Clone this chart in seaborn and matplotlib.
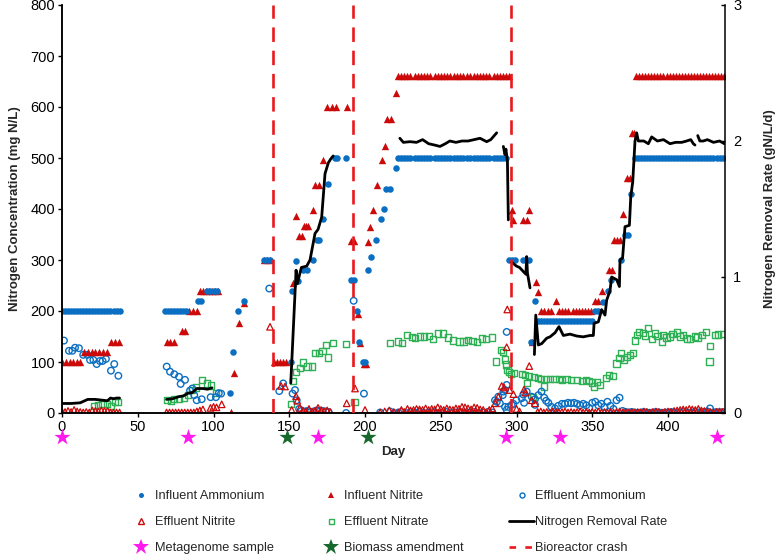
import matplotlib
matplotlib.use("Agg")
import matplotlib.pyplot as plt
import pandas as pd
import seaborn as sns
from matplotlib.lines import Line2D

sns.set_theme(style="ticks")
plt.rcParams['font.family'] = ['Liberation Sans', 'DejaVu Sans']

# ---------------- data (day, value) ----------------
influent_ammonium = [
    (0, 200), (2, 200), (4, 200), (6, 200), (8, 200), (10, 200), (12, 200), (14, 200), (16, 200), (18, 200),
    (20, 200), (22, 200), (24, 200), (26, 200), (28, 200), (30, 200), (32, 200), (34, 200), (36, 200), (38, 200),
    (68, 200), (70, 200), (72, 200), (74, 200), (76, 200), (78, 200), (80, 200), (82, 200), (90, 220), (92, 220),
    (96, 240), (98, 240), (100, 240), (102, 240), (111, 39), (113, 120), (116, 200), (120, 220),
    (133, 300), (135, 300), (137, 300),
    (151, 100), (152, 239), (154.3, 299), (156, 258), (159, 280), (161.5, 280), (165.5, 300), (168, 340),
    (169.5, 340), (172, 380), (175.5, 450), (180, 500), (181.5, 500), (187.5, 500),
    (190.5, 260), (192.5, 260), (194.5, 200), (196.3, 140), (198.5, 100), (200, 100), (202, 280), (203.7, 305),
    (207.3, 340), (210.6, 380), (212.5, 400), (214, 440), (216.5, 440), (220.3, 480),
    (222, 500), (224, 500), (226, 500), (228, 500), (230, 500), (233, 500), (235, 500), (237, 500), (239, 500),
    (241, 500), (243, 500), (246, 500), (248, 500), (250, 500), (252, 500), (254, 500), (256, 500), (259, 500),
    (261, 500), (263, 500), (265, 500), (267, 500), (269, 500), (272, 500), (274, 500), (276, 500), (278, 500),
    (280, 500), (282, 500), (285, 500), (287, 500), (289, 500), (291, 500), (293, 500),
    (295, 300), (297, 300), (299, 300), (304, 300), (306, 300), (308, 300), (309.5, 140), (312.2, 220),
    (314, 180), (316, 180), (318, 180), (320, 180), (322, 180), (324, 180), (326, 180), (328, 180), (330, 180),
    (332, 180), (334, 180), (336, 180), (338, 180), (340, 180), (342, 180), (344, 180), (346, 180), (348, 180),
    (350, 180), (352, 200), (354, 200), (357, 218), (360.6, 240), (362.2, 260), (368.8, 300), (371.6, 350),
    (373.5, 350), (375.6, 430),
    (378, 500), (380, 500), (382, 500), (384, 500), (386, 500), (388, 500), (390, 500), (392, 500), (394, 500),
    (396, 500), (398, 500), (400, 500), (402, 500), (404, 500), (406, 500), (408, 500), (410, 500), (412, 500),
    (414, 500), (416, 500), (418, 500), (420, 500), (422, 500), (424, 500), (426, 500), (428, 500), (430, 500),
    (432, 500), (434, 500), (436, 500),
]

influent_nitrite = [
    (0, 100), (2.5, 100), (5, 100), (7.5, 100), (10, 100), (12, 100),
    (14.5, 120), (17, 120), (19.5, 120), (22, 120), (24.5, 120), (27, 120), (29.5, 120),
    (32.5, 140), (35, 140), (37.5, 140),
    (69, 140), (71.5, 140), (74, 140), (79, 160), (81.5, 160), (84, 200), (86.5, 200), (89, 200),
    (91, 240), (93, 240), (95, 240), (97, 240), (99, 240), (101, 240), (103, 240),
    (111.6, 2), (113.5, 78), (117, 177), (120, 216), (133, 300), (135, 300), (137, 300),
    (140, 100), (142, 100), (144, 100), (146, 100), (148, 100),
    (152.6, 255), (154.5, 387), (156.4, 348), (158.2, 348), (159.5, 367), (161, 367), (162.6, 367),
    (165.9, 398), (167.2, 448), (169.6, 448), (172.5, 496), (175, 600), (178, 600), (181, 600), (188, 600),
    (190.5, 337), (192.5, 337), (195.2, 195), (196.7, 137), (199, 97), (200.7, 97), (202.2, 336),
    (203.3, 365), (205, 398), (208, 447), (211.2, 496), (213.2, 524), (214.5, 576), (217, 576), (220.3, 628),
    (222, 660), (224, 660), (226, 660), (228, 660), (230, 660), (233, 660), (235, 660), (237, 660), (239, 660),
    (241, 660), (243, 660), (246, 660), (248, 660), (250, 660), (252, 660), (254, 660), (256, 660), (259, 660),
    (261, 660), (263, 660), (265, 660), (267, 660), (269, 660), (272, 660), (274, 660), (276, 660), (278, 660),
    (280, 660), (282, 660), (285, 660), (287, 660), (289, 660), (291, 660), (293, 660), (295, 660),
    (296.8, 398), (298, 378), (304, 378), (306.7, 378), (308.4, 398), (310, 140), (312.6, 257), (314, 237),
    (316, 200), (318, 200), (321, 200), (323, 200), (326, 220), (328, 200), (330, 200), (332, 200), (334, 200),
    (337, 200), (339, 200), (341, 200), (343, 200), (345, 200), (347, 200), (349, 200),
    (352, 220), (354, 220), (356.2, 240), (361, 280), (362.8, 280), (364.5, 340), (366.2, 340), (368, 340),
    (370.3, 390), (372.7, 460), (375, 460), (376, 550), (377.6, 550),
    (379, 660), (381, 660), (383, 660), (385, 660), (387, 660), (389, 660), (391, 660), (393, 660), (395, 660),
    (397, 660), (399, 660), (401, 660), (403, 660), (405, 660), (407, 660), (409, 660), (411, 660), (413, 660),
    (415, 660), (417, 660), (419, 660), (421, 660), (423, 660), (425, 660), (427, 660), (429, 660), (431, 660),
    (433, 660), (435, 660), (437, 660),
]

effluent_ammonium = [
    (1.3, 142), (4.6, 122), (6.8, 122), (8.6, 128), (11.2, 127), (14, 114), (16.7, 114), (18.5, 104),
    (20.7, 104), (22.9, 96), (25, 102), (26.8, 102), (29, 106), (32.3, 83), (34.5, 96), (37.2, 73),
    (69.1, 91), (71.3, 81), (74.1, 76), (77.2, 71), (78.3, 57), (81.2, 65), (84.5, 44), (86, 48), (87.3, 35),
    (88.9, 25), (92.2, 27), (98.1, 31), (101.6, 31), (103.5, 39), (105, 38),
    (136.8, 244),
    (143.4, 43), (146, 58), (152.2, 38), (153.8, 45), (154.9, 25), (156.5, 8), (158, 4), (160, 3), (162, 4),
    (164, 2), (166, 3), (168, 5), (170, 3), (172, 4), (174, 3), (176, 2), (187.5, 0),
    (192.5, 220), (199.3, 38),
    (210, 1), (216.5, 3), (219, 0), (222, 1), (224, 2), (227, 0), (230, 2), (233, 1), (236, 2), (239, 0),
    (242, 1), (245, 2), (248, 0), (251, 1), (254, 2), (257, 0), (260, 1), (263, 2), (266, 0), (269, 1),
    (272, 2), (275, 0), (278, 1), (281, 2), (284, 1),
    (285.8, 25), (287, 22), (288, 32), (289, 19), (290.9, 35), (291.3, 42), (292.4, 45), (292.4, 12),
    (293.5, 55), (293.5, 159), (293.5, 6), (294.6, 12), (296.8, 16), (297.9, 18), (299.9, 25),
    (303.4, 29), (304.5, 36), (305, 20), (306.7, 42), (310, 32), (312.2, 27), (312.2, 16), (314.4, 35),
    (316.5, 42), (318.3, 30), (319.5, 24), (321, 20), (323, 12), (325.4, 9), (327.5, 14), (330, 18),
    (332, 18), (334, 20), (336, 19), (338, 20), (340, 18), (342, 15), (344, 18), (346, 15), (348, 10),
    (350, 20), (352, 22), (354, 15), (356, 18), (358, 12), (360, 22), (362, 14), (364, 8), (366, 25), (368, 30),
    (370, 4), (372, 2), (374, 1), (376, 2), (378, 1), (380, 0), (382, 1), (384, 2), (386, 1), (388, 0),
    (390, 1), (392, 2), (394, 1), (396, 0), (398, 1), (400, 1), (402, 2), (404, 1), (406, 0), (408, 1),
    (410, 2), (412, 1), (414, 0), (416, 1), (418, 2), (420, 1), (422, 1), (424, 2), (426, 3), (427.7, 9),
    (430, 1), (432, 2), (434, 1), (436, 2),
]

effluent_nitrite = [
    (0, 3), (2, 2), (4, 4), (6, 2), (8, 6), (10, 3), (12, 2), (14, 1), (16, 2), (18, 1), (20, 5), (22, 4),
    (24, 3), (26, 5), (28, 4), (30, 4), (32, 1), (34, 1), (36, 1), (38, 1),
    (69, 1), (71, 1), (73, 1), (75, 1), (77, 1), (79, 1), (81, 1), (83, 1), (85, 1), (87, 1), (89, 3), (91, 5),
    (93, 7), (98, 10), (100, 12), (102, 11), (105.4, 17),
    (137.3, 169),
    (144.6, 53), (147.2, 52), (151.6, 6), (154.5, 33), (155.3, 24), (157, 10), (159, 5), (161, 3), (163, 8),
    (165, 2), (167, 4), (169, 10), (171, 6), (173, 3), (175, 5), (177, 2),
    (187.9, 19), (193.4, 48), (200, 6),
    (210, 1), (213, 3), (216, 5), (219, 2), (222, 1), (224, 6), (226, 2), (228, 8), (230, 5), (232, 6),
    (234, 8), (236, 7), (238, 6), (240, 9), (242, 6), (244, 8), (246, 7), (248, 11), (250, 8), (252, 6),
    (254, 9), (256, 7), (258, 6), (260, 9), (262, 8), (264, 12), (266, 11), (268, 9), (270, 7), (272, 11),
    (274, 10), (276, 7), (278, 6), (280, 1), (282, 6), (284, 9),
    (286, 19), (288, 32), (290.2, 53), (291.8, 50), (293.5, 129), (293.9, 203), (295.5, 45), (297.9, 37),
    (300, 8), (302, 3), (305, 46), (306, 40), (308.4, 92), (310, 25), (312.2, 19),
    (314, 2), (316, 3), (318, 1), (320, 2), (322, 1), (324, 3), (326, 2), (328, 1), (330, 2), (332, 3),
    (334, 1), (336, 2), (338, 1), (340, 2), (342, 3), (344, 1), (346, 2), (348, 1), (350, 2), (352, 1),
    (354, 3), (356, 1), (358, 2), (360, 1), (362, 2), (364, 1), (366, 2), (368, 3), (370, 1), (372, 2),
    (374, 1), (376, 2), (378, 1), (380, 2), (382, 1), (384, 3), (386, 2), (388, 1), (390, 2), (392, 3),
    (394, 2), (396, 1), (398, 2), (400, 3), (402, 2), (404, 4), (406, 5), (408, 6), (410, 7), (412, 6),
    (414, 8), (416, 7), (418, 6), (420, 8), (422, 5), (424, 4), (426, 3), (428, 2), (430, 1), (432, 2),
    (434, 3), (436, 2),
]

effluent_nitrate = [
    (21.3, 14), (24, 16), (26.8, 18), (29.5, 18), (32.3, 14), (35, 21), (37.2, 21),
    (69.1, 25), (71.7, 23), (74.1, 27), (77.2, 28), (80.5, 30), (83.4, 35), (85.6, 45), (88.2, 50),
    (92.2, 65), (95.5, 58), (98.1, 54), (101.6, 39),
    (151.2, 17), (152.7, 63), (154.5, 81), (157, 89), (158.9, 99), (162, 91), (165, 91), (167, 117),
    (169.8, 117), (172, 122), (174.3, 133), (175.8, 109), (178.7, 138), (187.5, 135), (193, 21),
    (216.5, 138), (222, 140), (224.6, 138), (227.5, 153), (230.8, 149), (233, 147), (236.3, 150), (239, 150),
    (242, 151), (244.7, 145), (248.4, 156), (251.3, 156), (255, 148), (257.9, 142), (262.3, 140), (265, 140),
    (268, 143), (271, 141), (274, 139), (277, 146), (280, 145), (283.6, 148),
    (286.5, 101), (289.8, 123), (290.9, 120), (292.4, 105), (293, 95), (294, 85), (295, 80), (296.5, 76),
    (298.5, 78),
    (303.4, 76), (305.5, 74), (306.7, 59), (308, 72), (311, 32), (311.5, 70), (314, 68), (316, 66),
    (318.3, 52), (319.5, 66), (322, 67), (325, 66), (328, 66), (330, 65), (333, 67), (336, 65), (340, 64),
    (343, 63), (346, 64), (348, 63), (350, 60), (351, 52), (353, 61), (355, 55),
    (359, 69), (361, 74), (363.5, 72), (366, 97), (368, 108), (369, 117), (371, 105), (373, 110), (375, 113),
    (377, 117), (378.2, 142), (379.3, 153), (381, 159), (383.7, 157), (385, 152), (387, 166), (389.2, 145),
    (391.4, 156), (393, 151), (395.8, 140), (396.9, 153), (399, 148), (401.3, 150), (403, 155), (406.1, 158),
    (408, 150), (410.1, 153), (412.3, 146), (414.5, 145), (417.8, 150), (419.5, 148), (422.2, 153),
    (424.9, 159), (427.7, 131), (427.3, 101), (431, 153), (433.2, 154), (436.1, 155),
]

# Nitrogen removal rate (gN/L/d), one list per continuous segment
nrr_segments = [
    [(0, 0.07), (6, 0.07), (12, 0.075), (15, 0.09), (17, 0.10), (22, 0.10), (26, 0.095), (30, 0.09),
     (32, 0.11), (34, 0.105), (36, 0.11), (38, 0.11)],
    [(69, 0.10), (73, 0.105), (77, 0.12), (80, 0.125), (83, 0.145), (86, 0.15), (89, 0.18), (93, 0.18),
     (96, 0.175), (99, 0.185)],
    [(151, 0.22), (154.5, 1.05), (155.3, 0.95), (158, 1.07), (161.5, 1.08), (163.7, 1.125), (167, 1.32),
     (169, 1.35), (171.4, 1.44), (173.6, 1.76), (175.8, 1.84), (177.5, 1.87), (179, 1.89)],
    [(223, 2.02), (225.3, 1.99), (229.7, 1.995), (234, 1.99), (238, 2.01), (242, 1.98), (246, 1.97),
     (249.5, 1.96), (253, 1.98), (256, 2.0), (260, 1.99), (264, 2.0), (268, 2.0), (272, 2.01),
     (275.9, 2.02), (280.3, 1.995), (283, 2.01), (286.9, 2.06)],
    [(291.3, 1.96), (292.4, 1.90), (293, 1.94), (294, 1.85), (294.6, 1.42)],
    [(296.6, 1.11), (300, 1.08), (302, 1.07), (304.5, 1.04), (306.2, 1.02), (306.7, 1.15), (307.2, 1.03),
     (308.9, 0.92)],
    [(311.8, 0.43), (312.7, 0.72), (314.4, 0.50), (316.6, 0.51), (319.9, 0.55), (322.1, 0.56), (325.4, 0.59),
     (328, 0.635), (330.9, 0.57), (335.3, 0.58), (339.7, 0.566), (344, 0.56), (348.5, 0.57), (350.7, 0.57),
     (351.2, 0.66), (354, 0.67), (356.2, 0.76), (358.4, 0.72), (359.5, 0.83), (361.7, 0.90), (362.8, 1.0),
     (366.1, 0.98), (367.9, 0.93), (368.3, 1.125), (370, 1.14), (371.6, 1.37), (374.5, 1.38), (375.4, 1.59),
     (376.7, 1.70), (378.2, 2.0), (379.3, 2.06), (380.4, 2.0), (384, 2.0), (387, 1.98), (389.2, 2.03),
     (393, 2.0), (397, 2.01), (401.3, 1.98), (405, 1.99), (409, 1.99), (412.3, 2.0), (415, 2.01),
     (416.7, 1.98), (417.8, 1.97)],
    [(419.6, 2.04), (421, 2.0), (423.3, 2.0), (426, 2.01), (430, 1.99), (434, 2.0), (437.2, 1.98)],
]

metagenome_days = [0, 83, 169, 293, 329, 432]
biomass_days = [148.5, 202]
crash_days = [139, 192.3, 296.4]

x_ticks = [0, 50, 100, 150, 200, 250, 300, 350, 400]
left_ticks = [0, 100, 200, 300, 400, 500, 600, 700, 800]
right_ticks = [0, 1, 2, 3]

# ---------------- styling ----------------
BLUE = '#0A6FC2'
RED = '#CC0A0A'
GREEN = '#2EB055'
MAGENTA = '#FF1AF0'
DKGREEN = '#17692E'
CRASH = '#E8191E'

def frame(pairs):
    return pd.DataFrame(pairs, columns=['day', 'val'])

fig = plt.figure(figsize=(7.78, 5.54), dpi=100)
ax = fig.add_axes([62 / 778, 141 / 554, 663 / 778, 408 / 554])
ax2 = ax.twinx()

common = dict(x='day', y='val', ax=ax, legend=False)
sns.scatterplot(data=frame(effluent_nitrate), marker='s', s=20, facecolors='none',
                edgecolor=GREEN, linewidth=1.0, **common)
sns.scatterplot(data=frame(effluent_ammonium), marker='o', s=22, facecolors='none',
                edgecolor=BLUE, linewidth=1.0, **common)
sns.scatterplot(data=frame(effluent_nitrite), marker='^', s=22, facecolors='none',
                edgecolor=RED, linewidth=0.9, **common)
sns.scatterplot(data=frame(influent_nitrite), marker='^', s=28, color=RED, linewidth=0, **common)
sns.scatterplot(data=frame(influent_ammonium), marker='o', s=22, color=BLUE, linewidth=0, **common)

# stars below the axis
sns.scatterplot(x=metagenome_days, y=[-47] * len(metagenome_days), marker='*', s=150,
                color=MAGENTA, linewidth=0, ax=ax, clip_on=False, legend=False, zorder=5)
sns.scatterplot(x=biomass_days, y=[-47] * len(biomass_days), marker='*', s=150,
                color=DKGREEN, linewidth=0, ax=ax, clip_on=False, legend=False, zorder=5)

# removal rate line
nrr_rows = []
for i, seg in enumerate(nrr_segments):
    for d, v in seg:
        nrr_rows.append((i, d, v))
nrr_df = pd.DataFrame(nrr_rows, columns=['seg', 'day', 'val'])
sns.lineplot(data=nrr_df, x='day', y='val', units='seg', estimator=None, sort=False,
             color='black', lw=2.0, ax=ax2, legend=False)

for d in crash_days:
    ax2.axvline(d, color=CRASH, lw=1.9, linestyle=(0, (5.5, 3.3)), zorder=6)

ax.set_xlim(0, 437.6)
ax.set_ylim(0, 800)
ax2.set_ylim(0, 3)
ax2.set_xlim(0, 437.6)

ax.set_xticks(x_ticks)
ax.set_yticks(left_ticks)
ax2.set_yticks(right_ticks)
ax.tick_params(axis='both', labelsize=10.5, length=3, width=1, colors='black', pad=2)
ax2.tick_params(axis='y', labelsize=10.5, length=3, width=1, colors='black', direction='in', pad=6)

for a in (ax, ax2):
    a.spines['top'].set_visible(False)
    for s in ('left', 'right', 'bottom'):
        a.spines[s].set_color('black')
        a.spines[s].set_linewidth(1.1)
ax.spines['right'].set_visible(False)

ax.set_xlabel('Day', fontsize=9.5, fontweight='bold')
ax.set_ylabel('Nitrogen Concentration (mg N/L)', fontsize=9.5, fontweight='bold')
ax2.set_ylabel('Nitrogen Removal Rate (gN/L/d)', fontsize=9.5, fontweight='bold')
ax.xaxis.set_label_coords(0.5, -0.082)
ax.yaxis.set_label_coords(-0.062, 0.5)
ax2.yaxis.set_label_coords(1.059, 0.5)

# legend
h_inf_amm = Line2D([], [], ls='none', marker='o', ms=3.6, mfc=BLUE, mec=BLUE, mew=0)
h_inf_nit = Line2D([], [], ls='none', marker='^', ms=4.0, mfc=RED, mec=RED, mew=0)
h_eff_amm = Line2D([], [], ls='none', marker='o', ms=3.6, mfc='none', mec=BLUE, mew=1.0)
h_eff_nit = Line2D([], [], ls='none', marker='^', ms=4.0, mfc='none', mec=RED, mew=1.0)
h_eff_no3 = Line2D([], [], ls='none', marker='s', ms=3.6, mfc='none', mec=GREEN, mew=1.0)
h_nrr = Line2D([], [], color='black', lw=2.0)
h_meta = Line2D([], [], ls='none', marker='*', ms=12, mfc=MAGENTA, mec=MAGENTA, mew=0)
h_bio = Line2D([], [], ls='none', marker='*', ms=12, mfc=DKGREEN, mec=DKGREEN, mew=0)
h_crash = Line2D([], [], color=CRASH, lw=1.9, linestyle=(0, (2.5, 3.5)))

handles = [h_inf_amm, h_eff_nit, h_meta, h_inf_nit, h_eff_no3, h_bio, h_eff_amm, h_nrr, h_crash]
labels = ['Influent Ammonium', 'Effluent Nitrite', 'Metagenome sample',
          'Influent Nitrite', 'Effluent Nitrate', 'Biomass amendment',
          'Effluent Ammonium', 'Nitrogen Removal Rate', 'Bioreactor crash']
fig.legend(handles, labels, ncol=3, loc='upper left', bbox_to_anchor=(129 / 778, 1 - 490 / 554),
           frameon=False, fontsize=9.2, handlelength=1.9, handletextpad=0.1, columnspacing=3.55,
           labelspacing=1.11, borderpad=0, borderaxespad=0)

fig.savefig('out.png', dpi=100)
